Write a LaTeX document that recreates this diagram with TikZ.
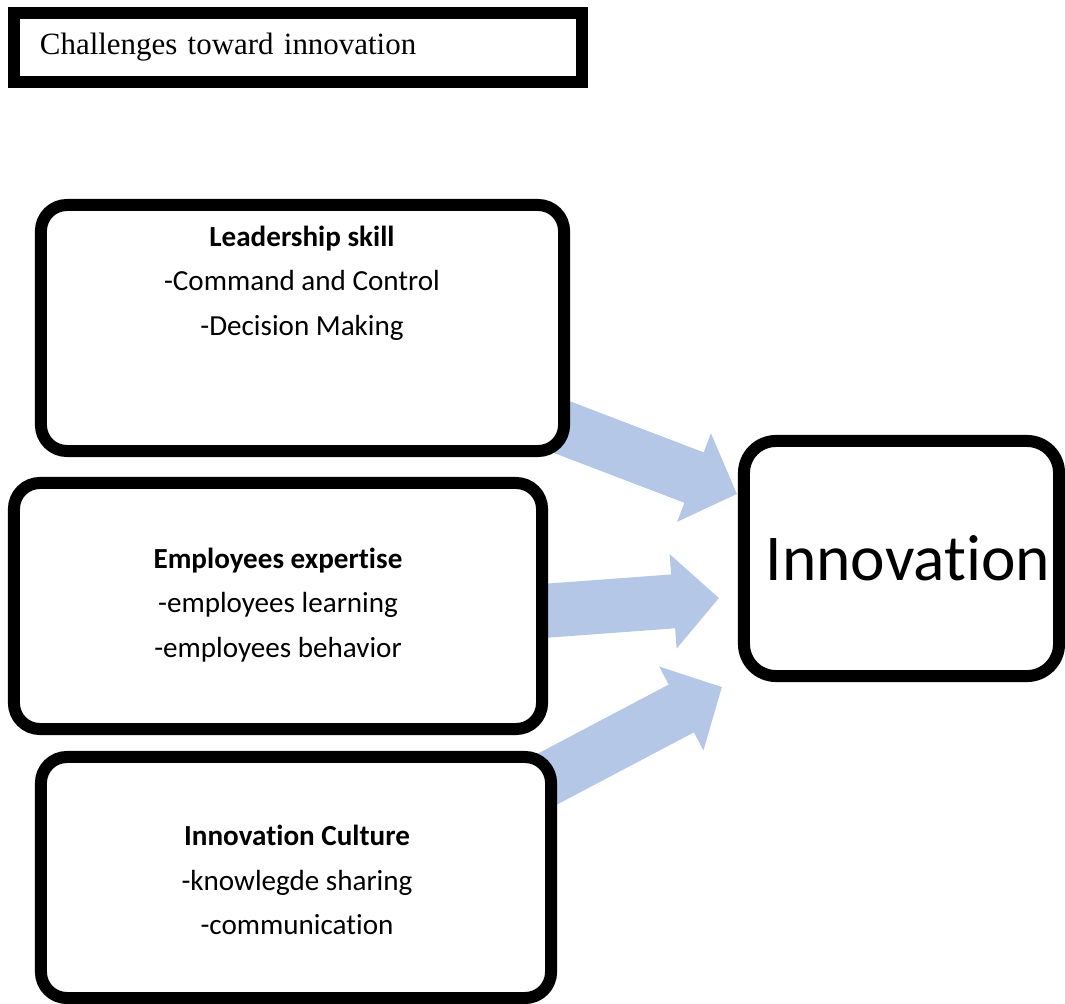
\documentclass[tikz,border=0pt]{standalone}
\usepackage{fontspec}
\setmainfont{Carlito}[Ligatures={NoCommon,NoContextual,NoRequired}]
\newfontfamily\titlefont{Liberation Serif}
\usetikzlibrary{arrows.meta,backgrounds,calc}
\definecolor{flowblue}{HTML}{B4C7E7}

\begin{document}
\begin{tikzpicture}[x=0.025cm,y=-0.025cm,
  box/.style={draw,fill=white,line width=0.3cm,rounded corners=0.65cm},
  txt/.style={align=center,font=\fontsize{20.7}{31.6}\selectfont},
  flow/.style={flowblue,line width=1.35cm,-{Triangle[length=1.15cm,width=2.3cm]}}]

\useasboundingbox (0,0) rectangle (1065,1004);

% heading
\node[draw,line width=0.3cm,minimum height=1.725cm,text width=12.9cm,inner xsep=0.65cm,align=left,font=\titlefont\fontsize{22}{26}\selectfont] (title) at (298,47.5) {Challenges toward innovation};

% the three factors
\node[box,minimum width=13.075cm,minimum height=6.15cm] (lead) at (302.5,328) {};
\node[txt] (leadtxt) at (302,283) {\textbf{Leadership skill}\\-Command and Control\\-Decision Making};

\node[box,minimum width=13.2cm,minimum height=6.15cm] (expert) at (278,606) {};
\node[txt] (experttxt) at (278,605) {\textbf{Employees expertise}\\-employees learning\\-employees behavior};

\node[box,minimum width=12.75cm,minimum height=6.025cm] (culture) at (296,877.5) {};
\node[txt] (culturetxt) at (297,880) {\textbf{Innovation Culture}\\-knowlegde sharing\\-communication};

% result
\node[box,rounded corners=0.8cm,minimum width=7.875cm,minimum height=5.875cm] (innov) at (901.5,558.5) {};
\node[font=\fontsize{46.5}{50}\selectfont] (innovtxt) at (908,558.5) {Innovation};

\coordinate (t1) at (737,494);
\coordinate (t2) at (719,598);
\coordinate (t3) at (722,687);

\begin{pgfonlayer}{background}
\draw[flow] (lead.center) -- (t1);
\draw[flow] ($(expert.center)!0.19!(expert.south)$) -- (t2);
\draw[flow] ($(culture.center)!0.27!(culture.south)$) -- (t3);
\end{pgfonlayer}

\end{tikzpicture}
\end{document}
